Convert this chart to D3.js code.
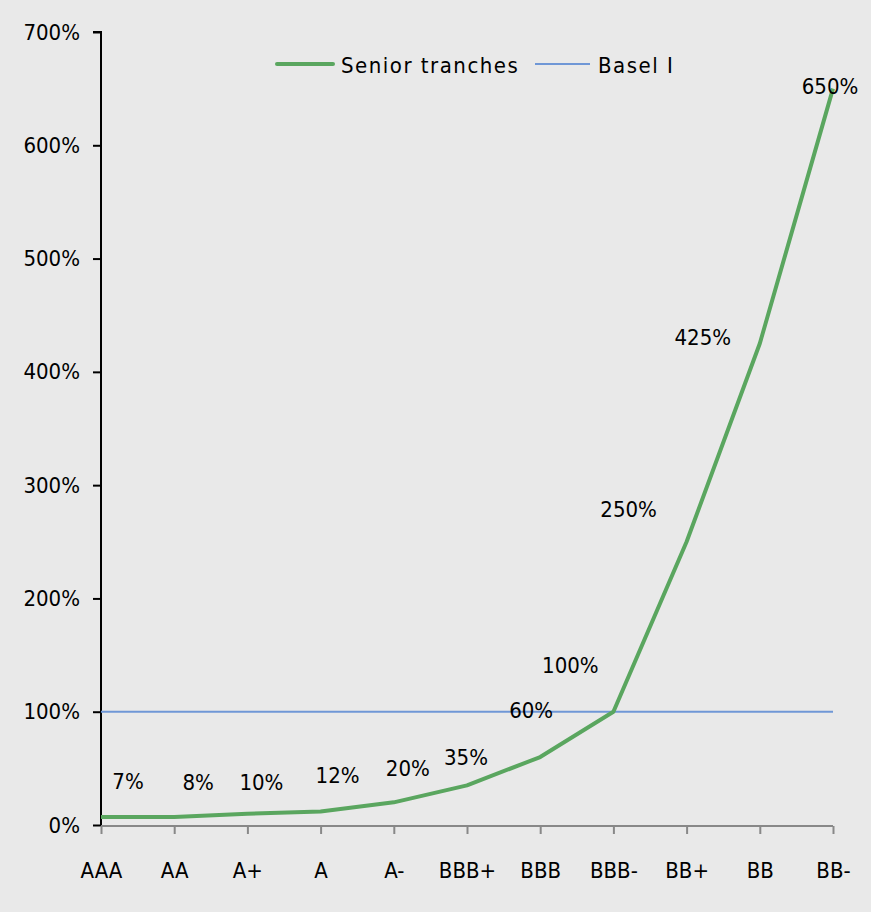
<!DOCTYPE html>
<html><head><meta charset="utf-8">
<script src="https://cdn.jsdelivr.net/npm/d3@7"></script>
<style>
html,body{margin:0;padding:0;background:#e9e9e9;}
svg{display:block;font-family:"DejaVu Sans Condensed","DejaVu Sans",sans-serif;}
</style></head>
<body>
<svg id="chart" width="871" height="912"></svg>
<script>
const categories = ["AAA","AA","A+","A","A-","BBB+","BBB","BBB-","BB+","BB","BB-"];
const seniorValues = [7,7,10,12,20,35,60,100,250,425,650];
const labelTexts = ["7%","8%","10%","12%","20%","35%","60%","100%","250%","425%","650%"];
const baselValue = 100;
const yTicks = [0,100,200,300,400,500,600,700];
const seriesNames = ["Senior tranches","Basel I"];
// label offsets in pixels relative to each point (layout only)
const labelOffsets = [[27,-36],[24,-35],[14,-31],[17,-36],[14,-34],[-1,-28],[-9,-47],[-43,-46],[-58,-32],[-57,-6],[-3,-2]];

const FONT = "DejaVu Sans Condensed, DejaVu Sans, sans-serif";
const FS = 22;
const svg = d3.select("#chart");
const W = 871, H = 912;
svg.append("rect").attr("width",W).attr("height",H).attr("fill","#e9e9e9");

const x = d3.scalePoint().domain(categories).range([101,833]);
const y = d3.scaleLinear().domain([0,700]).range([825,32]);

// Y axis
const yAxis = svg.append("g").attr("transform","translate(101,0)")
  .call(d3.axisLeft(y).tickValues(yTicks).tickFormat(d=>d+"%").tickSize(8).tickPadding(13));
yAxis.select(".domain").attr("stroke","#000").attr("stroke-width",2).attr("d","M-8,32H0V825");
yAxis.selectAll(".tick line").attr("stroke","#000").attr("stroke-width",2);
yAxis.selectAll(".tick text").attr("font-size",FS).attr("fill","#000").attr("font-family",FONT);

// X axis
const xAxis = svg.append("g").attr("transform","translate(0,826)")
  .call(d3.axisBottom(x).tickSize(8).tickPadding(28));
xAxis.select(".domain").attr("stroke","#888").attr("stroke-width",2).attr("d","M101,0H833");
xAxis.selectAll(".tick line").attr("stroke","#888").attr("stroke-width",2);
xAxis.selectAll(".tick text").attr("font-size",FS).attr("fill","#000").attr("font-family",FONT);

// Basel I line
svg.append("line").attr("x1",x(categories[0])).attr("x2",x(categories[categories.length-1]))
  .attr("y1",y(baselValue)).attr("y2",y(baselValue))
  .attr("stroke","#6f97d6").attr("stroke-width",2);

// Senior tranches line
const line = d3.line().x((d,i)=>x(categories[i])).y(d=>y(d));
svg.append("path").datum(seniorValues).attr("d",line)
  .attr("fill","none").attr("stroke","#5aa65f").attr("stroke-width",4).attr("stroke-linejoin","round");

// Data labels
svg.append("g").selectAll("text").data(seniorValues).join("text")
  .attr("x",(d,i)=>x(categories[i])+labelOffsets[i][0])
  .attr("y",(d,i)=>y(d)+labelOffsets[i][1])
  .attr("text-anchor","middle").attr("dominant-baseline","central")
  .attr("font-size",FS).attr("fill","#000").attr("font-family",FONT)
  .text((d,i)=>labelTexts[i]);

// Legend
const LY = 64;
const leg = svg.append("g");
leg.append("line").attr("x1",277).attr("x2",333).attr("y1",LY).attr("y2",LY)
  .attr("stroke","#5aa65f").attr("stroke-width",4).attr("stroke-linecap","round");
leg.append("text").attr("x",341).attr("y",LY+1).attr("dominant-baseline","central")
  .attr("font-size",FS).attr("fill","#000").attr("font-family",FONT).attr("letter-spacing","1.5").text(seriesNames[0]);
leg.append("line").attr("x1",535).attr("x2",590).attr("y1",LY).attr("y2",LY)
  .attr("stroke","#6f97d6").attr("stroke-width",2);
leg.append("text").attr("x",598).attr("y",LY+1).attr("dominant-baseline","central")
  .attr("font-size",FS).attr("fill","#000").attr("font-family",FONT).attr("letter-spacing","1.5").text(seriesNames[1]);
</script>
</body></html>
